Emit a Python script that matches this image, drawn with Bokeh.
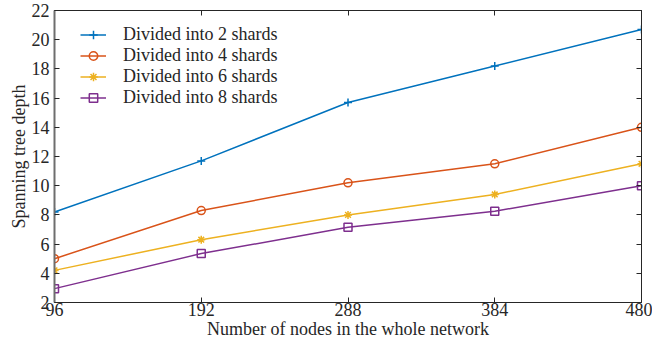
from bokeh.plotting import figure
from bokeh.models import (LinearAxis, FixedTicker, Range1d, Legend, LegendItem,
                          CustomLabelingPolicy)
from bokeh.embed import file_html
from bokeh.resources import INLINE

nodes = [96, 192, 288, 384, 480]
shards2 = [8.2, 11.7, 15.7, 18.2, 20.7]
shards4 = [5.0, 8.3, 10.2, 11.5, 14.0]
shards6 = [4.2, 6.3, 8.0, 9.4, 11.5]
shards8 = [2.95, 5.35, 7.15, 8.25, 10.0]
y_ticks = [2, 4, 6, 8, 10, 12, 14, 16, 18, 20, 22]
x_title = "Number of nodes in the whole network"
y_title = "Spanning tree depth"

FONT = "Liberation Serif"
INK = "#262626"

p = figure(frame_width=587, frame_height=292, output_backend="svg", toolbar_location=None,
           x_range=Range1d(nodes[0], nodes[-1]), y_range=Range1d(y_ticks[0], y_ticks[-1]),
           min_border_left=54, min_border_top=10, min_border_right=11, min_border_bottom=30)
p.xgrid.visible = False
p.ygrid.visible = False
p.outline_line_color = INK
p.outline_line_width = 1

for ax in p.xaxis + p.yaxis:
    ax.major_tick_in = 5
    ax.major_tick_out = 0
    ax.minor_tick_in = 0
    ax.minor_tick_out = 0
    ax.major_label_text_font = FONT
    ax.major_label_text_font_size = "18px"
    ax.major_label_text_color = INK
    ax.axis_label_text_font = FONT
    ax.axis_label_text_font_size = "18px"
    ax.axis_label_text_font_style = "normal"
    ax.axis_label_text_color = INK
    ax.axis_line_color = INK
    ax.major_tick_line_color = INK

p.xaxis.ticker = FixedTicker(ticks=nodes)
p.yaxis.ticker = FixedTicker(ticks=y_ticks)
p.xaxis.axis_label = x_title
p.yaxis.axis_label = y_title
p.xaxis.major_label_standoff = 0
p.xaxis.axis_label_standoff = 0
p.yaxis.major_label_standoff = 5
p.yaxis.axis_label_standoff = 0
p.yaxis.axis_line_color = "#6e6e6e"
p.yaxis.axis_line_width = 2

hide_all = CustomLabelingPolicy(code="""
    for (const i of indices) indices.unset(i)
    return indices
""")
top = LinearAxis(ticker=FixedTicker(ticks=nodes), major_label_policy=hide_all,
                 major_label_text_font_size="1px", major_label_standoff=0,
                 major_tick_in=5, major_tick_out=0, minor_tick_in=0, minor_tick_out=0,
                 axis_line_color=INK, major_tick_line_color=INK)
right = LinearAxis(ticker=FixedTicker(ticks=y_ticks), major_label_policy=hide_all,
                   major_label_text_font_size="1px", major_label_standoff=0,
                   major_tick_in=5, major_tick_out=0, minor_tick_in=0, minor_tick_out=0,
                   axis_line_color=INK, major_tick_line_color=INK)
p.add_layout(top, "above")
p.add_layout(right, "right")

series = [
    ("Divided into 2 shards", shards2, "#0072BD", "cross", None),
    ("Divided into 4 shards", shards4, "#D95319", "circle", None),
    ("Divided into 6 shards", shards6, "#EDB120", "asterisk", "#EDB120"),
    ("Divided into 8 shards", shards8, "#7E2F8E", "square", None),
]
items = []
for label, ys, color, marker, fill in series:
    r1 = p.line(nodes, ys, line_color=color, line_width=1.5)
    r2 = p.scatter(nodes, ys, marker=marker, size=8, line_color=color,
                   fill_color=fill, line_width=1.5)
    items.append(LegendItem(label=label, renderers=[r1, r2]))

legend = Legend(items=items, location=(26, 194), border_line_color=None,
                background_fill_alpha=0, label_text_font=FONT,
                label_text_font_size="18px", label_text_color=INK,
                glyph_width=26, glyph_height=21, label_height=21, spacing=0,
                label_standoff=17, padding=0, margin=0)
p.add_layout(legend, "center")

open("out.html", "w").write(file_html(p, INLINE))
